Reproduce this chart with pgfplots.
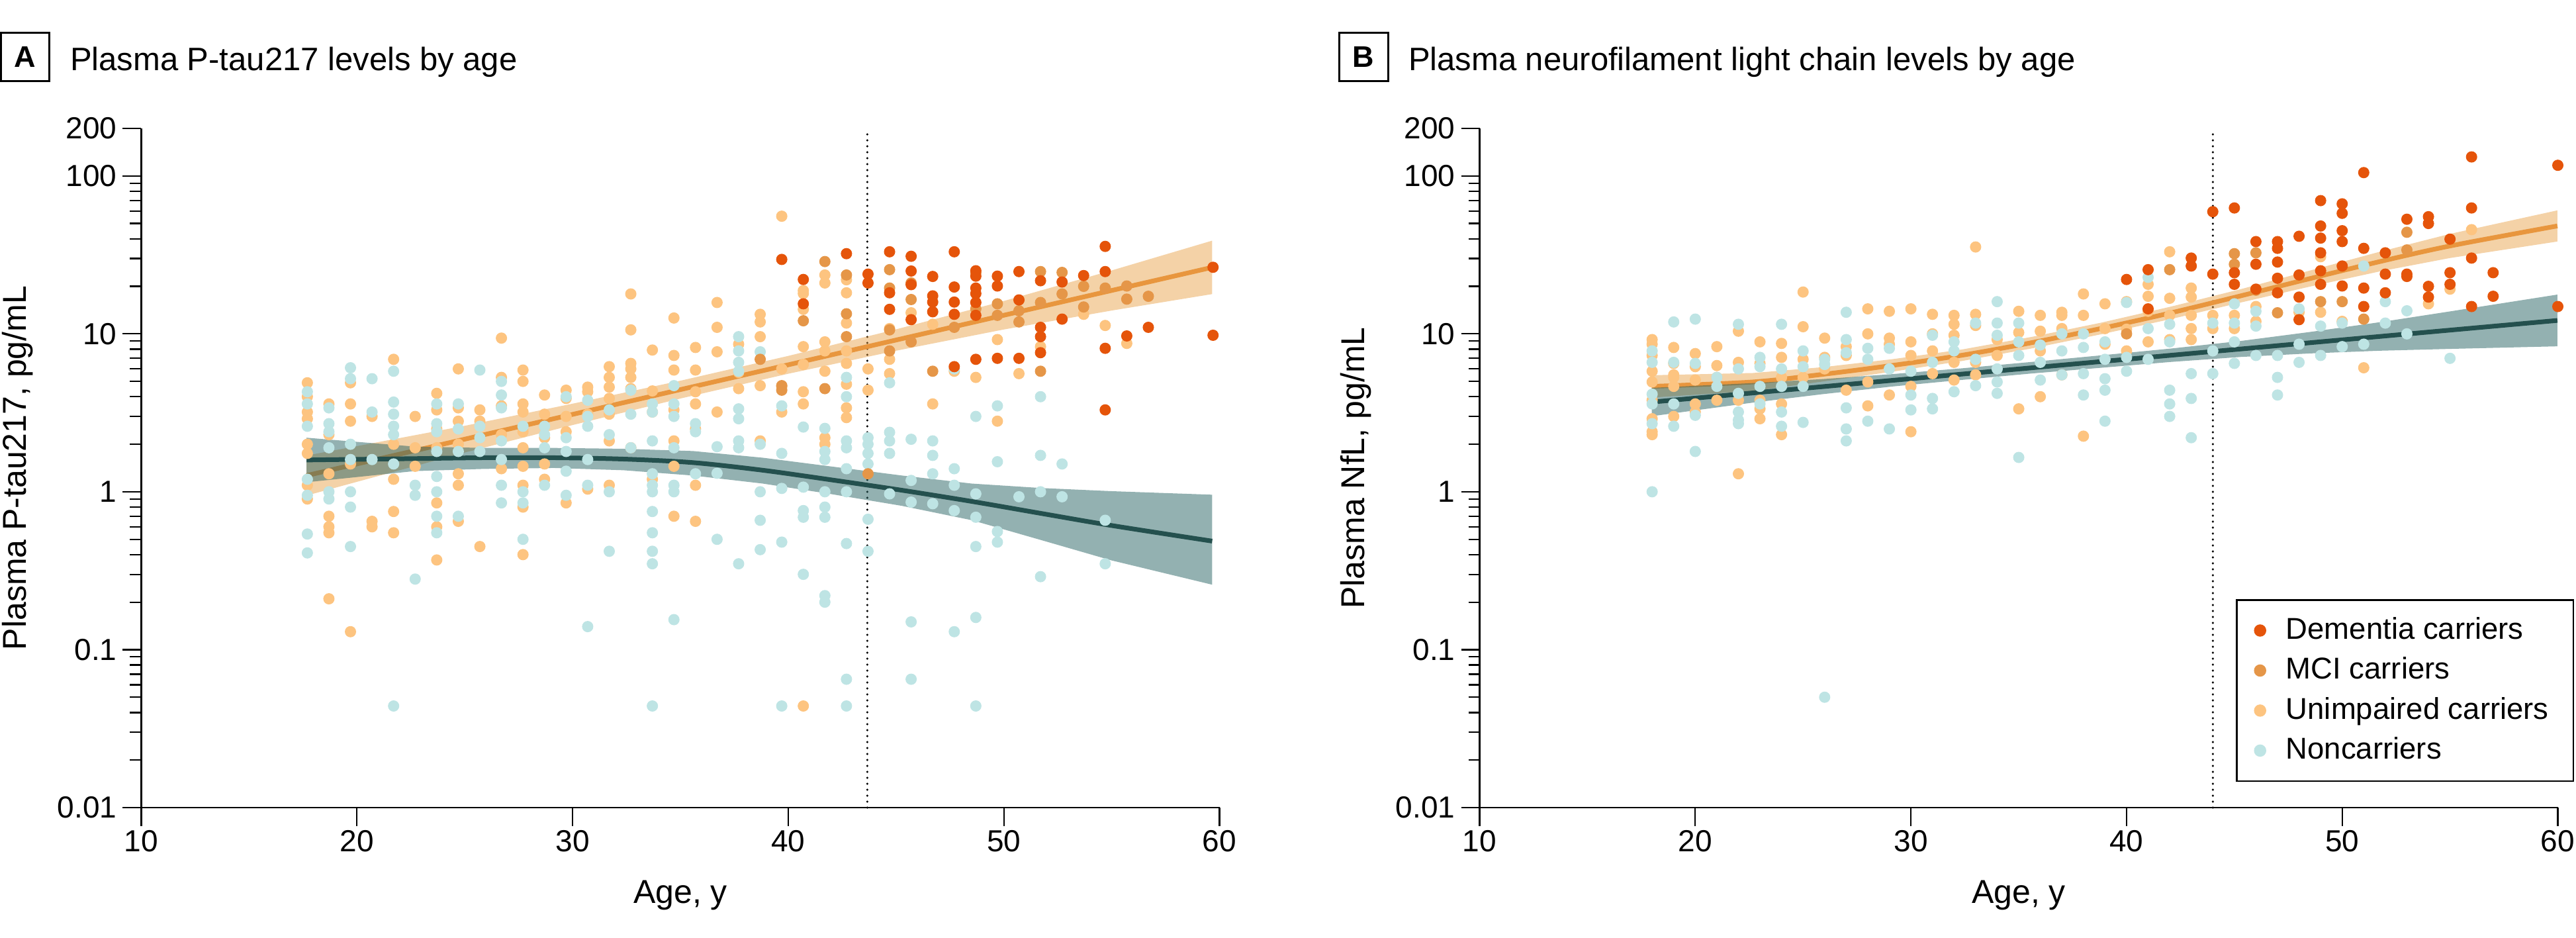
\documentclass[border=0pt]{standalone}
\usepackage{fontspec}
\setmainfont{Liberation Sans}
\usepackage{pgfplots}
\pgfplotsset{compat=1.18}

\definecolor{dem}{RGB}{229,84,10}
\definecolor{mci}{RGB}{229,150,72}
\definecolor{unimp}{RGB}{253,196,128}
\definecolor{nonc}{RGB}{190,228,228}
\definecolor{orl}{RGB}{232,150,62}
\definecolor{orb}{RGB}{230,155,60}
\definecolor{tel}{RGB}{36,80,78}
\definecolor{teb}{RGB}{40,100,100}

\begin{document}
\begin{tikzpicture}
\useasboundingbox (0,0) rectangle (778.4pt,283.4pt);

% ---------------- Panel A ----------------
\begin{axis}[at={(42.7pt,39.4pt)}, anchor=south west,
  scale only axis, width=325.8pt, height=205.2pt,
  xmin=10, xmax=60, ymin=0.01, ymax=200, ymode=log,
  xtick={10,20,30,40,50,60}, xticklabels={10,20,30,40,50,60},
  ytick={0.01,0.1,1,10,100,200}, yticklabels={0.01,0.1,1,10,100,200},
  minor ytick={0.02,0.03,0.04,0.05,0.06,0.07,0.08,0.09,0.2,0.3,0.4,0.5,0.6,0.7,0.8,0.9,2,3,4,5,6,7,8,9,20,30,40,50,60,70,80,90},
  axis x line*=bottom, axis y line*=left,
  axis line style={line width=0.5pt,-},
  tick align=outside, major tick length=5.6pt, minor tick length=3.4pt,
  tick style={black, line width=0.45pt},
  ticklabel style={font=\fontsize{9.2pt}{11pt}\selectfont},
  yticklabel style={inner sep=1.6pt},
  xticklabel style={inner sep=1pt},
  clip=false]
\addplot[black, line width=0.7pt, line cap=round, dash pattern=on 0pt off 1.8pt, forget plot] coordinates {(43.67,0.01) (43.67,200)};
% unimpaired carriers
\addplot[only marks, mark=*, mark size=1.5pt, color=unimp, mark options={draw=none, fill=unimp}, forget plot] table {
x y
17.7 4.9
17.7 4.0
17.7 3.2
17.7 2.9
17.7 2.0
17.7 1.75
17.7 1.1
17.7 0.9
18.7 3.6
18.7 2.3
18.7 1.3
18.7 0.7
18.7 0.6
18.7 0.55
18.7 0.21
19.7 4.9
19.7 3.6
19.7 2.8
19.7 1.5
19.7 0.13
20.7 3.0
20.7 0.65
20.7 0.6
21.7 6.9
21.7 2.0
21.7 1.2
21.7 0.75
21.7 0.55
22.7 3.0
22.7 1.9
22.7 1.45
23.7 4.2
23.7 3.3
23.7 2.5
23.7 1.9
23.7 0.85
23.7 0.6
23.7 0.37
24.7 6.0
24.7 3.4
24.7 2.8
24.7 2.0
24.7 1.3
24.7 1.1
24.7 0.65
25.7 3.3
25.7 2.8
25.7 0.45
26.7 9.4
26.7 5.3
26.7 3.5
26.7 2.3
26.7 1.4
27.7 5.9
27.7 5.0
27.7 3.6
27.7 3.2
27.7 2.4
27.7 1.9
27.7 1.45
27.7 1.1
27.7 0.8
27.7 0.4
28.7 4.1
28.7 3.1
28.7 2.2
28.7 1.5
28.7 1.2
29.7 4.4
29.7 3.9
29.7 3.0
29.7 2.4
29.7 0.85
30.7 4.6
30.7 4.3
30.7 3.1
30.7 1.04
31.7 6.2
31.7 5.3
31.7 4.6
31.7 3.9
31.7 3.1
31.7 2.1
31.7 1.1
32.7 17.9
32.7 10.6
32.7 6.5
32.7 6.0
32.7 5.3
32.7 4.5
32.7 1.9
33.7 7.9
33.7 4.35
33.7 3.2
33.7 1.2
34.7 12.6
34.7 7.3
34.7 5.9
34.7 3.3
34.7 2.1
34.7 1.45
34.7 0.7
35.7 8.2
35.7 5.9
35.7 4.3
35.7 3.6
35.7 2.5
35.7 1.1
35.7 0.65
36.7 15.8
36.7 11.0
36.7 7.7
36.7 3.2
37.7 8.6
37.7 5.7
37.7 4.5
38.7 13.3
38.7 11.9
38.7 9.6
38.7 4.7
38.7 2.1
39.7 55.6
39.7 6.0
39.7 4.65
39.7 3.2
40.7 18.8
40.7 18.0
40.7 14.3
40.7 8.3
40.7 6.4
40.7 4.3
40.7 3.6
40.7 0.044
41.7 23.6
41.7 21.0
41.7 8.9
41.7 7.8
41.7 5.8
41.7 2.2
41.7 2.0
42.7 22.0
42.7 18.2
42.7 11.7
42.7 7.8
42.7 6.5
42.7 4.8
42.7 3.4
42.7 2.95
43.7 6.0
43.7 4.4
44.7 10.8
44.7 6.9
44.7 5.6
45.7 13.6
46.7 11.5
46.7 3.6
47.7 5.8
48.7 5.3
49.7 9.2
49.7 2.8
50.7 5.6
51.7 8.3
53.7 13.3
54.7 11.3
55.7 8.7
};
% noncarriers
\addplot[only marks, mark=*, mark size=1.5pt, color=nonc, mark options={draw=none, fill=nonc}, forget plot] table {
x y
17.7 4.3
17.7 3.6
17.7 2.6
17.7 1.2
17.7 0.95
17.7 0.54
17.7 0.41
18.7 3.4
18.7 2.7
18.7 2.4
18.7 1.9
18.7 1.0
18.7 0.9
19.7 6.1
19.7 5.2
19.7 2.0
19.7 1.6
19.7 1.0
19.7 0.8
19.7 0.45
20.7 5.2
20.7 3.2
20.7 1.6
21.7 5.8
21.7 3.7
21.7 3.1
21.7 2.6
21.7 2.3
21.7 1.5
21.7 0.044
22.7 1.1
22.7 0.95
22.7 0.28
23.7 3.6
23.7 2.7
23.7 2.4
23.7 1.8
23.7 1.25
23.7 1.0
23.7 0.7
23.7 0.55
24.7 3.6
24.7 2.5
24.7 1.8
24.7 0.7
25.7 5.9
25.7 2.6
25.7 2.2
25.7 1.8
26.7 5.0
26.7 4.1
26.7 3.4
26.7 2.1
26.7 1.6
26.7 1.1
26.7 0.85
27.7 2.6
27.7 1.0
27.7 0.85
27.7 0.5
28.7 2.6
28.7 2.3
28.7 1.9
28.7 1.1
29.7 4.0
29.7 2.2
29.7 1.8
29.7 1.35
29.7 0.95
30.7 3.8
30.7 3.0
30.7 2.6
30.7 1.6
30.7 1.1
30.7 0.14
31.7 3.3
31.7 2.3
31.7 1.0
31.7 0.42
32.7 4.4
32.7 3.1
32.7 1.9
33.7 3.6
33.7 3.2
33.7 2.1
33.7 1.3
33.7 1.1
33.7 1.0
33.7 0.75
33.7 0.55
33.7 0.42
33.7 0.35
33.7 0.044
34.7 4.7
34.7 3.6
34.7 3.0
34.7 1.9
34.7 1.1
34.7 1.0
34.7 0.155
35.7 2.7
35.7 2.4
35.7 1.3
36.7 1.93
36.7 1.31
36.7 0.5
37.7 9.6
37.7 7.8
37.7 6.6
37.7 5.8
37.7 3.35
37.7 2.9
37.7 2.1
37.7 1.9
37.7 0.35
38.7 7.7
38.7 2.0
38.7 1.0
38.7 0.66
38.7 0.43
39.7 3.5
39.7 1.75
39.7 1.05
39.7 0.48
39.7 0.044
40.7 2.57
40.7 1.07
40.7 0.76
40.7 0.69
40.7 0.30
41.7 2.52
41.7 1.8
41.7 1.6
41.7 1.0
41.7 0.8
41.7 0.69
41.7 0.22
41.7 0.20
42.7 5.3
42.7 4.0
42.7 2.1
42.7 1.9
42.7 1.4
42.7 1.0
42.7 0.47
42.7 0.065
42.7 0.044
43.7 2.2
43.7 2.0
43.7 1.75
43.7 1.5
43.7 0.67
43.7 0.42
44.7 4.9
44.7 2.38
44.7 2.1
44.7 1.75
44.7 0.97
45.7 2.15
45.7 1.18
45.7 0.86
45.7 0.15
45.7 0.065
46.7 2.1
46.7 1.7
46.7 1.3
46.7 0.84
47.7 6.0
47.7 1.4
47.7 1.1
47.7 0.76
47.7 0.13
48.7 3.0
48.7 0.97
48.7 0.69
48.7 0.45
48.7 0.16
48.7 0.044
49.7 3.5
49.7 1.55
49.7 0.56
49.7 0.48
50.7 0.93
51.7 4.0
51.7 1.7
51.7 1.0
51.7 0.29
52.7 1.5
52.7 0.93
54.7 0.66
54.7 0.35
};
% MCI carriers
\addplot[only marks, mark=*, mark size=1.5pt, color=mci, mark options={draw=none, fill=mci}, forget plot] table {
x y
38.7 6.9
39.7 4.7
39.7 4.4
40.7 12.1
41.7 28.7
41.7 4.5
42.7 23.6
42.7 13.4
42.7 9.6
43.7 1.3
44.7 25.5
44.7 19.5
44.7 10.6
44.7 7.8
45.7 21.0
45.7 16.5
45.7 8.9
46.7 5.8
47.7 11.0
48.7 24.4
48.7 14.4
49.7 15.5
49.7 13.1
50.7 14.0
50.7 11.9
51.7 24.8
51.7 15.8
51.7 5.8
52.7 24.5
52.7 17.9
53.7 20.0
53.7 14.8
54.7 19.5
55.7 20.1
55.7 16.6
56.7 17.3
};
% dementia carriers
\addplot[only marks, mark=*, mark size=1.5pt, color=dem, mark options={draw=none, fill=dem}, forget plot] table {
x y
39.7 29.6
40.7 22.1
40.7 15.5
42.7 32.2
43.7 23.9
43.7 21.0
44.7 33.1
44.7 18.2
44.7 14.3
45.7 31.0
45.7 25.0
45.7 20.5
45.7 12.3
46.7 23.1
46.7 17.4
46.7 15.9
46.7 13.8
47.7 33.1
47.7 19.8
47.7 15.9
47.7 13.3
47.7 6.2
48.7 25.1
48.7 23.2
48.7 19.5
48.7 18.0
48.7 15.8
48.7 13.1
48.7 6.9
49.7 23.2
49.7 20.1
49.7 7.0
50.7 24.8
50.7 16.4
50.7 7.0
51.7 21.7
51.7 11.0
51.7 9.6
51.7 7.6
52.7 21.3
52.7 12.4
53.7 23.4
54.7 35.8
54.7 24.8
54.7 8.1
54.7 3.3
55.7 9.7
56.7 11.0
59.7 26.4
59.7 9.8
};
% carriers fit band and line
\addplot[fill=orb, fill opacity=0.45, draw=none, forget plot] coordinates {
(17.66,1.697) (20,1.946) (25,2.617) (30,3.613) (35,5.05) (40,7.25) (45,10.68) (50,16.15) (55,25.22) (59.66,38.94)
(59.66,17.86) (55,14.05) (50,10.66) (45,7.82) (40,5.59) (35,3.896) (30,2.645) (25,1.772) (20,1.156) (17.66,0.946)} -- cycle;
\addplot[orl, line width=1.4pt, forget plot] coordinates {(17.66,1.267) (59.66,26.37)};
% noncarriers fit band and line
\addplot[fill=teb, fill opacity=0.5, draw=none, forget plot] coordinates {
(17.66,2.20) (22.67,1.933) (25.90,1.895) (29.13,1.895) (32.36,1.872) (35.59,1.811) (38.82,1.643) (42.05,1.443) (45.28,1.267) (48.51,1.127) (51.74,1.056) (54.98,1.009) (59.66,0.958)
(59.66,0.258) (54.98,0.368) (51.74,0.494) (48.51,0.661) (45.28,0.814) (42.05,0.964) (38.82,1.127) (35.59,1.267) (32.36,1.369) (29.13,1.415) (25.90,1.396) (22.67,1.352) (17.66,1.149)} -- cycle;
\addplot[tel, line width=1.4pt, smooth, forget plot] coordinates {
(17.66,1.590) (22.67,1.622) (25.90,1.643) (29.13,1.643) (32.36,1.611) (35.59,1.530) (38.82,1.369) (42.05,1.187) (45.28,1.022) (48.51,0.869) (51.74,0.729) (54.98,0.612) (59.66,0.487)};
\end{axis}

% ---------------- Panel B ----------------
\begin{axis}[at={(447.1pt,39.4pt)}, anchor=south west,
  scale only axis, width=325.8pt, height=205.2pt,
  xmin=10, xmax=60, ymin=0.01, ymax=200, ymode=log,
  xtick={10,20,30,40,50,60}, xticklabels={10,20,30,40,50,60},
  ytick={0.01,0.1,1,10,100,200}, yticklabels={0.01,0.1,1,10,100,200},
  minor ytick={0.02,0.03,0.04,0.05,0.06,0.07,0.08,0.09,0.2,0.3,0.4,0.5,0.6,0.7,0.8,0.9,2,3,4,5,6,7,8,9,20,30,40,50,60,70,80,90},
  axis x line*=bottom, axis y line*=left,
  axis line style={line width=0.5pt,-},
  tick align=outside, major tick length=5.6pt, minor tick length=3.4pt,
  tick style={black, line width=0.45pt},
  ticklabel style={font=\fontsize{9.2pt}{11pt}\selectfont},
  yticklabel style={inner sep=1.6pt},
  xticklabel style={inner sep=1pt},
  clip=false,
  legend style={at={(1.0153,0.307)}, anchor=north east, draw=black, line width=0.5pt,
    font=\fontsize{9.1pt}{11pt}\selectfont, cells={anchor=west},
    inner xsep=5.5pt, inner ysep=3.2pt,
    /tikz/every odd column/.append style={column sep=4.2pt}},
]
\addlegendimage{only marks, mark=*, mark size=1.6pt, color=dem, mark options={draw=none, fill=dem}}
\addlegendentry{Dementia carriers}
\addlegendimage{only marks, mark=*, mark size=1.6pt, color=mci, mark options={draw=none, fill=mci}}
\addlegendentry{MCI carriers}
\addlegendimage{only marks, mark=*, mark size=1.6pt, color=unimp, mark options={draw=none, fill=unimp}}
\addlegendentry{Unimpaired carriers}
\addlegendimage{only marks, mark=*, mark size=1.6pt, color=nonc, mark options={draw=none, fill=nonc}}
\addlegendentry{Noncarriers}
\addplot[black, line width=0.7pt, line cap=round, dash pattern=on 0pt off 1.8pt, forget plot] coordinates {(44.0,0.01) (44.0,200)};
% unimpaired carriers
\addplot[only marks, mark=*, mark size=1.5pt, color=unimp, mark options={draw=none, fill=unimp}, forget plot] table {
x y
18 9.2
18 8.6
18 7.3
18 5.8
18 4.96
18 3.8
18 2.9
18 2.4
18 2.3
19 8.2
19 6.5
19 5.5
19 5.3
19 4.65
19 3.0
20 7.5
20 6.2
20 5.1
20 3.6
20 3.2
21 8.3
21 6.3
21 5.3
21 3.8
22 10.4
22 6.6
22 3.8
22 1.3
23 8.9
23 6.5
23 3.8
23 3.35
23 2.9
24 8.7
24 7.1
24 5.3
24 3.6
24 2.3
25 18.4
25 11.1
25 6.9
25 5.3
26 9.4
26 7.1
26 6.0
27 8.3
27 7.3
27 4.4
28 14.4
28 10.0
28 4.96
28 3.5
29 13.9
29 9.4
29 8.6
29 4.1
30 14.4
30 8.9
30 7.3
30 4.65
30 2.4
31 13.3
31 10.0
31 7.8
31 5.6
32 13.1
32 11.5
32 9.8
32 6.6
32 5.1
33 35.5
33 13.3
33 11.3
33 6.6
33 5.5
34 9.2
34 7.3
35 13.9
35 10.2
35 3.35
36 13.1
36 10.4
36 7.8
36 4.0
37 13.7
37 13.1
37 10.8
37 5.5
38 17.9
38 13.1
38 2.25
39 15.5
39 10.8
39 8.6
40 16.0
40 10.7
40 7.8
41 20.6
41 17.3
41 13.9
41 8.9
42 33.1
42 16.8
42 13.1
42 9.2
43 19.5
43 17.1
43 13.1
43 10.8
43 9.2
44 13.1
44 10.8
45 13.1
45 10.8
46 14.9
46 12.0
48 13.7
49 30.8
49 13.7
50 12.0
51 6.1
54 15.5
55 19.2
56 45.7
};
% noncarriers
\addplot[only marks, mark=*, mark size=1.5pt, color=nonc, mark options={draw=none, fill=nonc}, forget plot] table {
x y
18 7.8
18 6.6
18 4.15
18 3.6
18 2.7
18 1.0
19 11.9
19 6.6
19 3.6
19 2.6
20 12.4
20 6.5
20 3.05
20 1.8
21 5.3
21 4.65
22 11.5
22 6.0
22 4.2
22 3.2
22 2.85
22 2.7
23 7.1
23 6.2
23 4.65
23 3.6
24 11.5
24 6.0
24 4.65
24 3.2
24 2.6
25 7.8
25 6.2
25 4.65
25 2.75
26 6.9
26 6.4
26 0.050
27 13.7
27 9.2
27 7.6
27 3.4
27 2.5
27 2.1
28 8.1
28 6.9
28 2.8
29 8.1
29 6.0
29 2.5
30 5.8
30 4.1
30 3.3
31 9.8
31 6.6
31 3.9
31 3.35
32 8.9
32 7.8
32 4.3
33 11.7
33 6.9
33 4.7
34 16.0
34 11.7
34 9.8
34 6.0
34 4.96
34 4.2
35 11.7
35 8.9
35 7.3
35 1.65
36 8.5
36 6.6
36 5.1
37 10.0
37 7.8
37 5.5
38 10.0
38 8.2
38 5.6
38 4.1
39 8.9
39 6.9
39 5.2
39 4.4
39 2.8
40 15.8
40 7.1
40 5.8
41 22.8
41 10.8
41 6.9
42 11.5
42 8.9
42 4.4
42 3.6
42 3.0
43 5.6
43 3.9
43 2.2
44 11.7
44 7.8
44 5.6
45 15.5
45 11.7
45 8.9
45 6.5
46 13.9
46 11.2
46 7.3
47 7.3
47 5.3
47 4.1
48 14.4
48 8.6
48 6.6
49 11.2
49 7.3
50 11.7
50 8.3
51 26.9
51 8.6
52 16.0
52 11.7
53 14.0
53 10.0
55 7.0
};
% MCI carriers
\addplot[only marks, mark=*, mark size=1.5pt, color=mci, mark options={draw=none, fill=mci}, forget plot] table {
x y
40 10.0
42 25.5
45 32.2
45 27.6
46 32.6
46 18.9
47 13.6
49 16.0
50 16.0
51 12.4
53 44.0
53 34.0
};
% dementia carriers
\addplot[only marks, mark=*, mark size=1.5pt, color=dem, mark options={draw=none, fill=dem}, forget plot] table {
x y
40 22.1
41 25.5
41 14.4
43 30.2
43 26.9
44 59.4
44 23.9
45 62.7
45 24.4
45 20.6
46 38.4
46 27.6
46 19.2
47 38.4
47 34.8
47 28.5
47 22.5
47 18.2
48 41.5
48 23.6
48 17.1
48 12.3
49 69.8
49 48.2
49 40.4
49 32.6
49 25.1
49 20.6
50 66.6
50 58.0
50 45.0
50 38.4
50 26.9
50 20.1
51 105
51 34.8
51 19.5
51 14.9
52 32.6
52 23.9
52 18.2
53 53.2
53 23.9
53 23.1
54 55.2
54 50.0
54 20.0
54 17.1
55 39.8
55 24.4
55 20.6
56 132
56 62.7
56 30.2
56 14.9
57 24.4
57 17.3
60 116.8
60 14.9
};
% carriers fit band and line
\addplot[fill=orb, fill opacity=0.45, draw=none, forget plot] coordinates {
(17.98,5.47) (22.67,5.65) (25.90,6.15) (29.13,6.91) (32.36,7.96) (35.59,9.56) (38.82,11.77) (42.05,14.87) (45.28,19.16) (48.51,25.18) (51.74,33.10) (54.98,42.90) (59.98,60.54)
(59.98,38.44) (54.98,30.19) (51.74,24.85) (48.51,19.93) (45.28,15.78) (42.05,12.40) (38.82,9.94) (35.59,8.08) (32.36,6.73) (29.13,5.76) (25.90,4.99) (22.67,4.35) (17.98,3.95)} -- cycle;
\addplot[orl, line width=1.4pt, smooth, forget plot] coordinates {
(17.98,4.65) (22.67,4.96) (25.90,5.54) (29.13,6.31) (32.36,7.32) (35.59,8.79) (38.82,10.82) (42.05,13.58) (45.28,17.39) (48.51,22.40) (51.74,28.68) (54.98,35.99) (59.98,48.24)};
% noncarriers fit band and line
\addplot[fill=teb, fill opacity=0.5, draw=none, forget plot] coordinates {
(17.98,4.55) (22.67,4.88) (25.90,5.17) (29.13,5.56) (32.36,6.05) (35.59,6.64) (38.82,7.31) (42.05,8.07) (45.28,9.01) (48.51,10.28) (51.74,11.85) (54.98,13.86) (59.98,17.73)
(59.98,8.34) (54.98,8.03) (51.74,7.82) (48.51,7.52) (45.28,7.14) (42.05,6.64) (38.82,6.10) (35.59,5.61) (32.36,5.11) (29.13,4.64) (25.90,4.15) (22.67,3.67) (17.98,3.01)} -- cycle;
\addplot[tel, line width=1.4pt, forget plot] coordinates {(17.98,3.70) (59.98,12.16)};
\end{axis}

% titles and labels
\draw[line width=0.6pt] (0.3pt,258.8pt) rectangle (14.8pt,273.4pt);
\node[font=\bfseries\fontsize{9pt}{11pt}\selectfont] at (7.55pt,266.1pt) {A};
\node[anchor=base west, inner sep=0pt, font=\fontsize{9.8pt}{12pt}\selectfont] at (21pt,262pt) {Plasma P-tau217 levels by age};
\draw[line width=0.6pt] (404.6pt,258.8pt) rectangle (419.4pt,273.4pt);
\node[font=\bfseries\fontsize{9pt}{11pt}\selectfont] at (412pt,266.1pt) {B};
\node[anchor=base west, inner sep=0pt, font=\fontsize{9.8pt}{12pt}\selectfont] at (425.4pt,262pt) {Plasma neurofilament light chain levels by age};
\node[rotate=90, font=\fontsize{10pt}{12pt}\selectfont] at (5.4pt,142pt) {Plasma P-tau217, pg/mL};
\node[rotate=90, font=\fontsize{10pt}{12pt}\selectfont] at (409.8pt,142pt) {Plasma NfL, pg/mL};
\node[font=\fontsize{10pt}{12pt}\selectfont] at (205.6pt,13pt) {Age, y};
\node[font=\fontsize{10pt}{12pt}\selectfont] at (610pt,13pt) {Age, y};
\end{tikzpicture}
\end{document}
